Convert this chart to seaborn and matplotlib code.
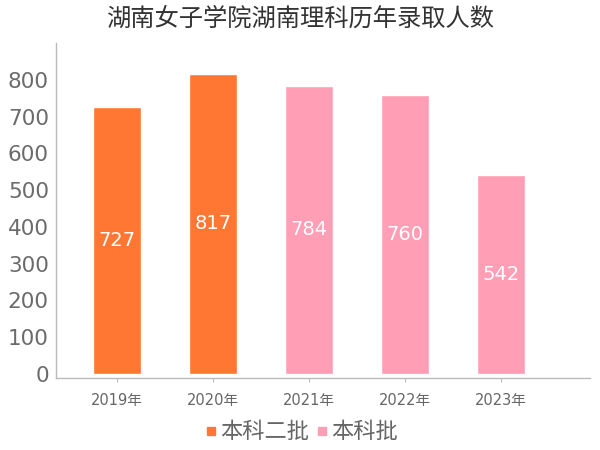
import matplotlib
matplotlib.use("Agg")
import matplotlib.pyplot as plt
import seaborn as sns
import pandas as pd
from matplotlib.lines import Line2D

years = ["2019年", "2020年", "2021年", "2022年", "2023年"]
values = [727, 817, 784, 760, 542]
batches = ["本科二批", "本科二批", "本科批", "本科批", "本科批"]
title = "湖南女子学院湖南理科历年录取人数"
yticks = [0, 100, 200, 300, 400, 500, 600, 700, 800]

sns.set_theme(style="white")
plt.rcParams['font.family'] = ['Noto Sans CJK SC', 'DejaVu Sans']
numfont = ['DejaVu Sans', 'Noto Sans CJK SC']

df = pd.DataFrame({"year": years, "value": values, "batch": batches})
palette = {"本科二批": "#FF7733", "本科批": "#FF9EB5"}
gray = "#666666"

fig = plt.figure(figsize=(6, 4.5), dpi=100)
ax = fig.add_axes([0.093, 0.16, 0.89, 0.744])
sns.barplot(data=df, x="year", y="value", hue="batch", palette=palette,
            dodge=False, width=0.5, ax=ax, legend=False, saturation=1)

for i, v in enumerate(values):
    ax.text(i, v / 2, str(v), ha="center", va="center", color="white",
            fontsize=14, family=numfont)

ax.set_ylim(-11, 900)
ax.set_xlim(-0.64, 4.93)
ax.set_yticks(yticks)
ax.set_yticklabels([str(t) for t in yticks], fontsize=15.5, color="#6b6b6b", family=numfont)
ax.set_xticks(range(len(years)))
ax.set_xticklabels(years, fontsize=10.5, color=gray, family=numfont)
ax.tick_params(axis="x", length=3, width=0.8, pad=8, color="#BBBBBB", bottom=True)
ax.tick_params(axis="y", length=0, pad=5)
ax.set_xlabel("")
ax.set_ylabel("")
for s in ["top", "right"]:
    ax.spines[s].set_visible(False)
for s in ["left", "bottom"]:
    ax.spines[s].set_color("#BBBBBB")
    ax.spines[s].set_linewidth(1)

fig.text(0.5, 0.958, title, ha="center", va="center", fontsize=17.5, color="#333333")

handles = [Line2D([0], [0], marker="s", color="none", markerfacecolor=palette[k],
                  markeredgecolor=palette[k], markersize=6) for k in ["本科二批", "本科批"]]
leg = fig.legend(handles, ["本科二批", "本科批"], loc="center", bbox_to_anchor=(0.5, 0.04),
                 ncol=2, frameon=False, fontsize=16, handletextpad=0.0, columnspacing=0.2,
                 handlelength=0.8)
for t in leg.get_texts():
    t.set_color(gray)

fig.savefig("out.png", dpi=100)
